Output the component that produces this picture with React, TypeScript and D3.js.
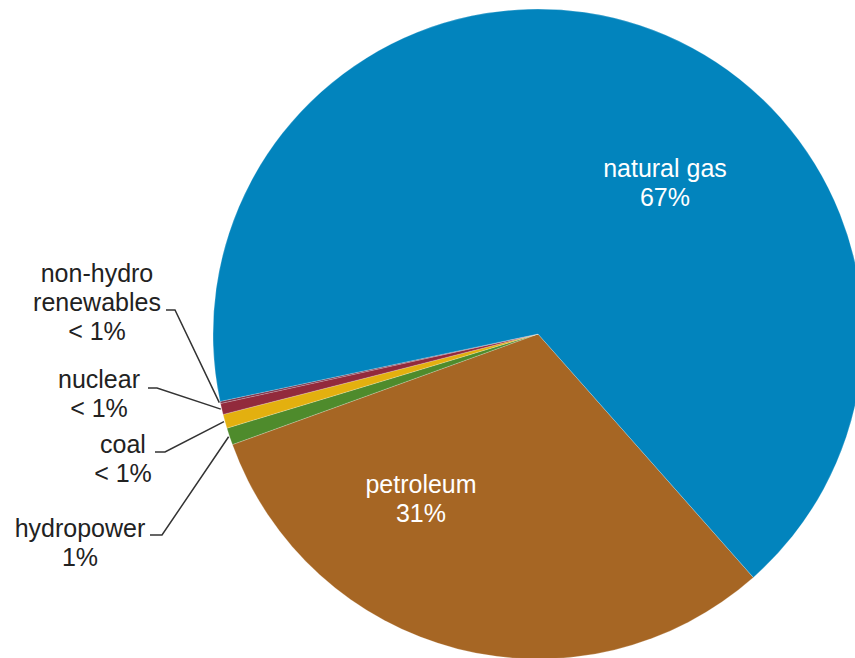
import React, { useRef, useEffect } from 'react';
import * as d3 from 'd3';

interface Slice {
  label: string;
  value: number;
  color: string;
}

const categories = ['petroleum', 'hydropower', 'coal', 'nuclear', 'non-hydro renewables', 'natural gas'];
const shares = [31.0, 0.85, 0.7, 0.55, 0.1, 66.8];
const colors = ['#a66624', '#4e8b2c', '#e3b00f', '#922a3c', '#7a2f48', '#0284bd'];

const insideLabels = [
  { label: 'natural gas', lines: ['natural gas', '67%'], x: 665, y: 177 },
  { label: 'petroleum', lines: ['petroleum', '31%'], x: 421, y: 493 }
];

const outsideLabels = [
  { label: 'non-hydro renewables', lines: ['non-hydro', 'renewables', '< 1%'], x: 97, y: 282, elbow: [[166, 310], [175, 310]] },
  { label: 'nuclear', lines: ['nuclear', '< 1%'], x: 99, y: 388, elbow: [[148, 388], [157, 388]] },
  { label: 'coal', lines: ['coal', '< 1%'], x: 123, y: 453, elbow: [[155, 452], [165, 452]] },
  { label: 'hydropower', lines: ['hydropower', '1%'], x: 80, y: 537, elbow: [[150, 535], [162, 535]] }
];

const W = 855;
const H = 658;

export default function App() {
  const svgRef = useRef<SVGSVGElement>(null);

  useEffect(() => {
    if (!svgRef.current) return;
    const svg = d3.select(svgRef.current);
    svg.selectAll('*').remove();

    const data: Slice[] = categories.map((c, i) => ({ label: c, value: shares[i], color: colors[i] }));
    const cx = 538;
    const cy = 334;
    const radius = 325;
    const start = (138.5 * Math.PI) / 180;

    const pie = d3.pie<Slice>()
      .value(d => d.value)
      .sort(null)
      .startAngle(start)
      .endAngle(start + 2 * Math.PI);

    const arc = d3.arc<d3.PieArcDatum<Slice>>()
      .innerRadius(0)
      .outerRadius(radius);

    const arcs = pie(data);
    const g = svg.append('g').attr('transform', `translate(${cx},${cy})`);

    g.selectAll('path')
      .data(arcs)
      .enter()
      .append('path')
      .attr('d', arc)
      .attr('fill', d => d.data.color)
      .attr('stroke', '#ffffff')
      .attr('stroke-opacity', 0.35)
      .attr('stroke-width', 0.6);

    const font = '"Liberation Sans", Arial, sans-serif';

    // labels inside the big slices
    insideLabels.forEach(l => {
      const t = svg.append('text')
        .attr('text-anchor', 'middle')
        .attr('font-family', font)
        .attr('font-size', 25)
        .attr('fill', '#ffffff');
      l.lines.forEach((s, i) => {
        t.append('tspan').attr('x', l.x).attr('y', l.y + i * 29).text(s);
      });
    });

    // labels with leader lines for the small slices
    outsideLabels.forEach(l => {
      const a = arcs.find(d => d.data.label === l.label)!;
      const mid = (a.startAngle + a.endAngle) / 2;
      const r = radius + 1;
      const end: [number, number] = [cx + r * Math.sin(mid), cy - r * Math.cos(mid)];
      const pts = [...l.elbow, end] as [number, number][];
      svg.append('path')
        .attr('d', d3.line()(pts))
        .attr('fill', 'none')
        .attr('stroke', '#333333')
        .attr('stroke-width', 1.5);

      const t = svg.append('text')
        .attr('text-anchor', 'middle')
        .attr('font-family', font)
        .attr('font-size', 25)
        .attr('fill', '#222222');
      l.lines.forEach((s, i) => {
        t.append('tspan').attr('x', l.x).attr('y', l.y + i * 29).text(s);
      });
    });
  }, []);

  return (
    <div style={{ position: 'fixed', left: 0, top: 0, width: W, height: H, overflow: 'hidden', background: '#fff' }}>
      <svg ref={svgRef} width={W} height={H}></svg>
    </div>
  );
}
